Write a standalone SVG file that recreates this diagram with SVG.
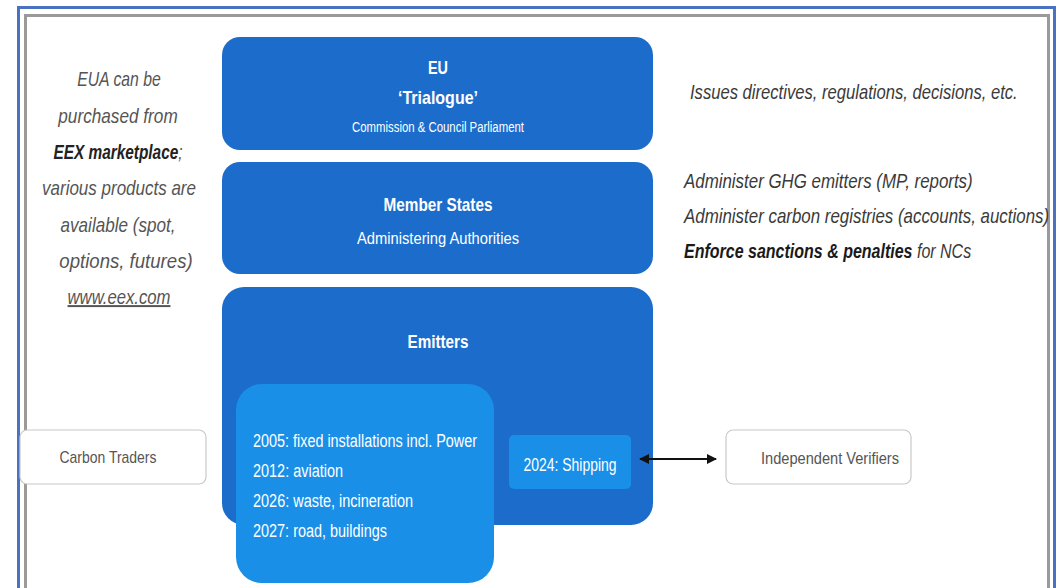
<svg xmlns="http://www.w3.org/2000/svg" width="1060" height="588" viewBox="0 0 1060 588">
<style>
.t{font-family:"Liberation Sans",Arial,sans-serif}
.side{font-family:"Liberation Sans",Arial,sans-serif;font-style:italic;font-size:20px;fill:#555;text-anchor:middle}
.rside{font-family:"Liberation Sans",Arial,sans-serif;font-style:italic;font-size:20px;fill:#3a3a3a}
.dark{fill:#1C6DCB}
.light{fill:#1A8FE8}
.w{fill:#fff}
.b{font-weight:bold}
.plain{fill:#fff;stroke:#c8c8c8;stroke-width:1.2}
.lbl{font-family:"Liberation Sans",Arial,sans-serif;font-size:17px;fill:#555}
</style>
<defs>
<marker id="ah" viewBox="0 0 10 10" refX="9" refY="5" markerWidth="10" markerHeight="10" markerUnits="userSpaceOnUse" orient="auto-start-reverse">
<path d="M0,0 L10,5 L0,10 Z" fill="#111"/>
</marker>
</defs>
<rect width="1060" height="588" fill="#fff"/>
<g id="frame" fill="none">
<path d="M18.5,600 V7.5 H1054.5 V600" stroke="#4a72c0" stroke-width="3"/>
<path d="M25.5,600 V15.5 H1048.5 V600" stroke="#9a9a9a" stroke-width="3"/>
<path d="M22,600 V11.5 H1051" stroke="#fff" stroke-width="2"/>
</g>
<g id="left-note">
<text class="side" transform="translate(119,86) scale(0.79,1)">EUA can be</text>
<text class="side" transform="translate(118,123) scale(0.86,1)">purchased from</text>
<text class="side" transform="translate(118,159) scale(0.77,1)"><tspan font-weight="bold" fill="#222">EEX marketplace</tspan>;</text>
<text class="side" transform="translate(119,195) scale(0.85,1)">various products are</text>
<text class="side" transform="translate(118,232) scale(0.855,1)">available (spot,</text>
<text class="side" transform="translate(126,268) scale(0.93,1)">options, futures)</text>
<text class="side" transform="translate(119,304) scale(0.835,1)" text-decoration="underline">www.eex.com</text>
</g>
<g id="eu">
<rect class="dark" x="222" y="37" width="431" height="113" rx="18"/>
<text class="t b w" x="438" y="74" text-anchor="middle" font-size="19" textLength="20" lengthAdjust="spacingAndGlyphs">EU</text>
<text class="t b w" x="438" y="104" text-anchor="middle" font-size="19" textLength="80" lengthAdjust="spacingAndGlyphs">‘Trialogue’</text>
<text class="t w" x="438" y="132" text-anchor="middle" font-size="14" textLength="172" lengthAdjust="spacingAndGlyphs">Commission &amp; Council Parliament</text>
</g>
<g id="member-states">
<rect class="dark" x="222" y="162" width="431" height="112" rx="18"/>
<text class="t b w" x="438" y="211" text-anchor="middle" font-size="19" textLength="109" lengthAdjust="spacingAndGlyphs">Member States</text>
<text class="t w" x="438" y="244" text-anchor="middle" font-size="17" textLength="162" lengthAdjust="spacingAndGlyphs">Administering Authorities</text>
</g>
<g id="right-notes">
<text class="rside" transform="translate(690,99) scale(0.831,1)">Issues directives, regulations, decisions, etc.</text>
<text class="rside" transform="translate(684,188) scale(0.845,1)">Administer GHG emitters (MP, reports)</text>
<text class="rside" transform="translate(684,223) scale(0.845,1)">Administer carbon registries (accounts, auctions)</text>
<text class="rside" transform="translate(684,258) scale(0.80,1)"><tspan font-weight="bold" fill="#1a1a1a">Enforce sanctions &amp; penalties</tspan> for NCs</text>
</g>
<g id="emitters">
<rect class="dark" x="222" y="287" width="431" height="238" rx="22"/>
<text class="t b w" x="438" y="348" text-anchor="middle" font-size="19" textLength="61" lengthAdjust="spacingAndGlyphs">Emitters</text>
</g>
<g id="sectors">
<rect class="light" x="236" y="384" width="258" height="199" rx="26"/>
<text class="t w" x="253" y="447" font-size="18" textLength="224" lengthAdjust="spacingAndGlyphs">2005: fixed installations incl. Power</text>
<text class="t w" x="253" y="477" font-size="18" textLength="90" lengthAdjust="spacingAndGlyphs">2012: aviation</text>
<text class="t w" x="253" y="507" font-size="18" textLength="160" lengthAdjust="spacingAndGlyphs">2026: waste, incineration</text>
<text class="t w" x="253" y="537" font-size="18" textLength="134" lengthAdjust="spacingAndGlyphs">2027: road, buildings</text>
</g>
<g id="shipping">
<rect class="light" x="509" y="435" width="122" height="54" rx="5"/>
<text class="t w" x="570" y="471" text-anchor="middle" font-size="18" textLength="93" lengthAdjust="spacingAndGlyphs">2024: Shipping</text>
</g>
<g id="carbon-traders">
<rect class="plain" x="20" y="430" width="186" height="54" rx="7"/>
<text class="lbl" x="108" y="463" text-anchor="middle" textLength="97" lengthAdjust="spacingAndGlyphs">Carbon Traders</text>
</g>
<g id="independent-verifiers">
<rect class="plain" x="726" y="430" width="185" height="54" rx="7"/>
<text class="lbl" x="830" y="464" text-anchor="middle" textLength="138" lengthAdjust="spacingAndGlyphs">Independent Verifiers</text>
</g>
<g id="connectors">
<line x1="640" y1="459" x2="716" y2="459" stroke="#111" stroke-width="2" marker-start="url(#ah)" marker-end="url(#ah)"/>
</g>
</svg>
